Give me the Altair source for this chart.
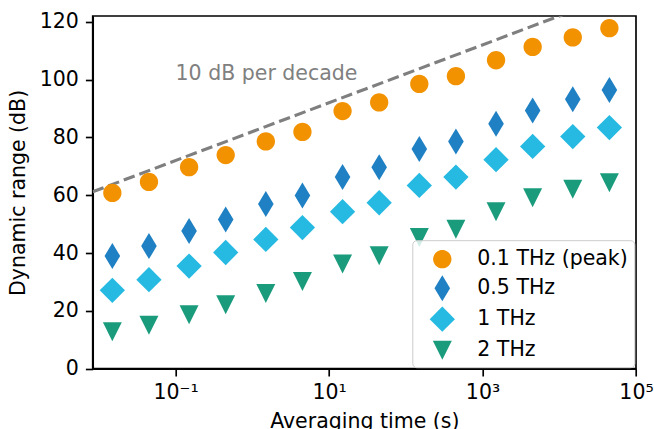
import altair as alt
import pandas as pd

# ---- data ----
times = [0.015, 0.045, 0.15, 0.45, 1.5, 4.5, 15, 45, 150, 450, 1500, 4500, 15000, 45000]
series = ["0.1 THz (peak)", "0.5 THz", "1 THz", "2 THz"]
dr_01 = [60.8, 64.6, 69.7, 73.9, 78.6, 81.9, 89.1, 92.1, 98.5, 101.2, 106.7, 111.3, 114.6, 117.8]
dr_05 = [39.0, 42.4, 47.6, 51.6, 57.0, 59.9, 66.3, 69.7, 76.0, 78.6, 84.7, 89.3, 93.2, 96.4]
dr_1 = [27.1, 30.8, 35.5, 40.2, 44.7, 48.8, 54.3, 57.4, 63.4, 66.3, 72.3, 76.9, 80.3, 83.4]
dr_2 = [12.8, 15.0, 18.7, 22.1, 26.0, 30.2, 36.2, 39.1, 45.4, 48.2, 54.3, 59.1, 62.1, 64.3]

guide_t = [0.00832, 1e5]
guide_db = [61.2, 132.0]
guide_label = "10 dB per decade"
guide_label_t = [0.1]
guide_label_db = [100]

x_ticks = [0.1, 10, 1000, 100000]
y_ticks = [0, 20, 40, 60, 80, 100, 120]

colors = ["#F39200", "#1F80C3", "#26BAE2", "#1A9C7C"]
# marker outlines in units of half the symbol box (box = sqrt(size) px)
shapes = [
    "M0.704,0A0.704,0.704,0,1,1,-0.704,0A0.704,0.704,0,1,1,0.704,0Z",
    "M0,-1L0.6,0L0,1L-0.6,0Z",
    "M0,-0.973L0.973,0L0,0.973L-0.973,0Z",
    "M-0.73,-0.73L0.73,-0.73L0,0.73Z",
]
SYM = 676

FONT = "DejaVu Sans"
FS = 20.5

rows = []
for name, vals in zip(series, [dr_01, dr_05, dr_1, dr_2]):
    for t, v in zip(times, vals):
        rows.append({"t": t, "dr": v, "series": name})
df = pd.DataFrame(rows)
df_line = pd.DataFrame({"t": guide_t, "dr": guide_db})
df_text = pd.DataFrame({"t": guide_label_t, "dr": guide_label_db, "label": [guide_label]})

xscale = alt.Scale(type="log", domain=[0.00832, 1e5], nice=False)
yscale = alt.Scale(domain=[0, 122], nice=False, zero=False)

xaxis = alt.Axis(
    values=x_ticks,
    labelExpr="datum.value < 1 ? '10⁻¹' : datum.value < 100 ? '10¹' : datum.value < 10000 ? '10³' : '10⁵'",
    labelFlush=False, labelOverlap=False, grid=False,
    labelFont=FONT, labelFontSize=FS, labelColor="black",
    labelBaseline="alphabetic", labelPadding=22.3,
    tickSize=7.3, tickWidth=1.67, tickColor="black",
    domainColor="black", domainWidth=1.67,
    title="Averaging time (s)", titleFont=FONT, titleFontSize=FS,
    titleFontWeight="normal", titleColor="black",
    titleBaseline="alphabetic", titleY=58.5, titleX=271.6,
)
yaxis = alt.Axis(
    values=y_ticks, grid=False,
    labelFont=FONT, labelFontSize=FS, labelColor="black", labelPadding=7,
    tickSize=7.3, tickWidth=1.67, tickColor="black",
    domainColor="black", domainWidth=1.67,
    title="Dynamic range (dB)", titleFont=FONT, titleFontSize=FS,
    titleFontWeight="normal", titleColor="black",
    titleBaseline="alphabetic", titleAngle=270, titleX=-68, titleY=176.4,
    titleAlign="center",
)

legend = alt.Legend(
    title=None, orient="none", legendX=319.6, legendY=224.2,
    fillColor="rgba(255,255,255,0.8)", strokeColor="#cccccc", cornerRadius=4,
    padding=6, labelFont=FONT, labelFontSize=FS, labelColor="black",
    symbolOffset=11, labelOffset=22, rowPadding=5, symbolStrokeWidth=0,
    symbolOpacity=1, symbolSize=SYM,
)

line = alt.Chart(df_line).mark_line(
    strokeDash=[11.6, 5], strokeWidth=3.1, color="#7f7f7f", clip=True
).encode(
    x=alt.X("t:Q", scale=xscale, axis=xaxis),
    y=alt.Y("dr:Q", scale=yscale, axis=yaxis),
)

text = alt.Chart(df_text).mark_text(
    align="left", baseline="alphabetic", font=FONT, fontSize=FS, color="#808080"
).encode(
    x=alt.X("t:Q", scale=xscale),
    y=alt.Y("dr:Q", scale=yscale),
    text="label:N",
)

points = alt.Chart(df).mark_point(filled=True, opacity=1, strokeWidth=0, size=SYM).encode(
    x=alt.X("t:Q", scale=xscale),
    y=alt.Y("dr:Q", scale=yscale),
    color=alt.Color("series:N", scale=alt.Scale(domain=series, range=colors), legend=legend),
    shape=alt.Shape("series:N", scale=alt.Scale(domain=series, range=shapes), legend=legend),
)

chart = alt.layer(line, text, points).properties(
    width=543.3, height=352.7,
    autosize=alt.AutoSizeParams(type="none"),
    padding={"left": 92.7, "top": 16, "right": 18, "bottom": 60.3},
).configure_view(stroke="black", strokeWidth=1.67)

chart.save("out.html", embed_options={"renderer": "svg", "actions": False})
